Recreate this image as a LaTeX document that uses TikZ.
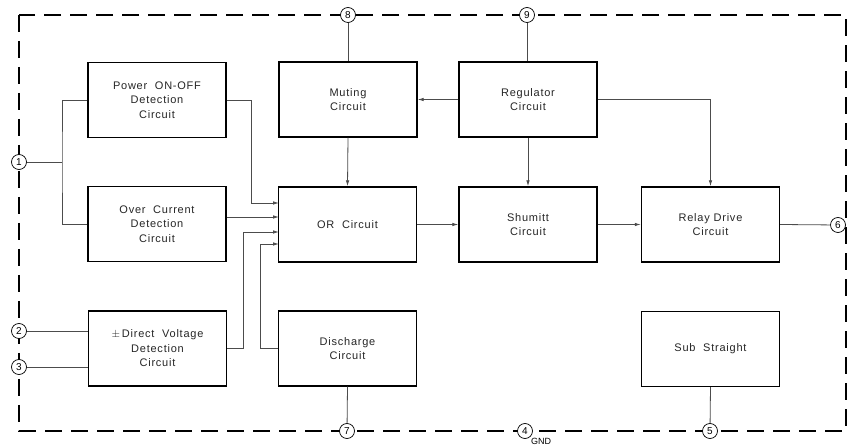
\documentclass[tikz,border=0pt]{standalone}
\usepackage{fontspec}
\setmainfont{Liberation Sans}
\newfontfamily\lblfont[LetterSpace=7.0]{Liberation Sans}
\usetikzlibrary{arrows.meta,calc}
\tikzset{
  blk/.style={draw, line width=1.4pt, minimum width=138pt, minimum height=75pt,
    inner sep=0pt, align=center, font=\lblfont\fontsize{11}{14.5}\selectfont, text=black!85},
  pin/.style={draw, circle, line width=0.7pt, fill=white, minimum size=15pt, inner sep=0pt,
    font=\fontsize{10}{10}\selectfont},
  conn/.style={line width=0.8pt, draw=black!70},
  arr/.style={conn, -{Latex[length=6pt,width=3.5pt]}},
  frame/.style={line width=1.5pt, dash pattern=on 17pt off 9pt}
}
\begin{document}
\begin{tikzpicture}[x=1pt,y=-1pt]
\useasboundingbox (0,0) rectangle (847,446);
\fill[white] (0,0) rectangle (847,446);
% frame
\draw[frame] (19,15) rectangle (846,431);
% blocks
\node[blk] (pwr) at (157,100) {Power\ \ ON-OFF\\Detection\\Circuit};
\node[blk] (oc)  at (157,224) {Over\ \ Current\\Detection\\Circuit};
\node[blk] (dv)  at (157.5,348.5) {$\pm$\,Direct\ \ Voltage\\Detection\\Circuit};
\node[blk] (mut) at (348,99.5) {Muting\\Circuit};
\node[blk] (reg) at (528,99.5) {Regulator\\Circuit};
\node[blk] (or)  at (347.5,224.5) {OR\ \ Circuit};
\node[blk] (sh)  at (528,224.5) {Shumitt\\Circuit};
\node[blk] (rel) at (710.5,224.5) {Relay\ Drive\\Circuit};
\node[blk] (dis) at (347.5,348.5) {Discharge\\Circuit};
\node[blk] (sub) at (710.5,349) {Sub\ \ Straight};
% pins
\node[pin] (p1) at (19,162) {1};
\node[pin] (p2) at (19,331) {2};
\node[pin] (p3) at (19,367) {3};
\node[pin] (p8) at (348,15) {8};
\node[pin] (p9) at (527,15) {9};
\node[pin] (p7) at (347,431) {7};
\node[pin] (p4) at (525,431) {4};
\node[pin] (p5) at (710,431) {5};
\node[pin] (p6) at (838,225) {6};
\node[font=\fontsize{9}{9}\selectfont, anchor=west, inner sep=0pt] (gnd) at (531,441) {GND};
% junctions and OR inputs
\coordinate (j1) at (62,162);
\coordinate (o1) at (279,203);
\coordinate (o2) at (279,217);
\coordinate (o3) at (279,232);
\coordinate (o4) at (279,244);
% connections
\draw[conn] (p1) -- (j1);
\draw[conn] (pwr.west) -| (j1) |- (oc.west);
\draw[conn] (p2) -- (p2 -| dv.west);
\draw[conn] (p3) -- (p3 -| dv.west);
\draw[arr] (pwr.east) -| (251,203) -- (o1);
\draw[arr] (oc.east |- o2) -- (o2);
\draw[arr] (dv.east) -| (243,232) -- (o3);
\draw[arr] (dis.west) -| (260,244) -- (o4);
\draw[arr] (mut.south) -- (or.north);
\draw[arr] (reg.west) -- (mut.east);
\draw[arr] (reg.south) -- (sh.north);
\draw[arr] (reg.east) -| (rel.north);
\draw[arr] (or.east) -- (sh.west);
\draw[arr] (sh.east) -- (rel.west);
\draw[conn] (rel.east) -- (p6);
\draw[conn] (p8) -- (mut.north);
\draw[conn] (p9) -- (p9 |- reg.north);
\draw[conn] (dis.south) -- (p7);
\draw[conn] (sub.south) -- (p5);
\end{tikzpicture}
\end{document}
